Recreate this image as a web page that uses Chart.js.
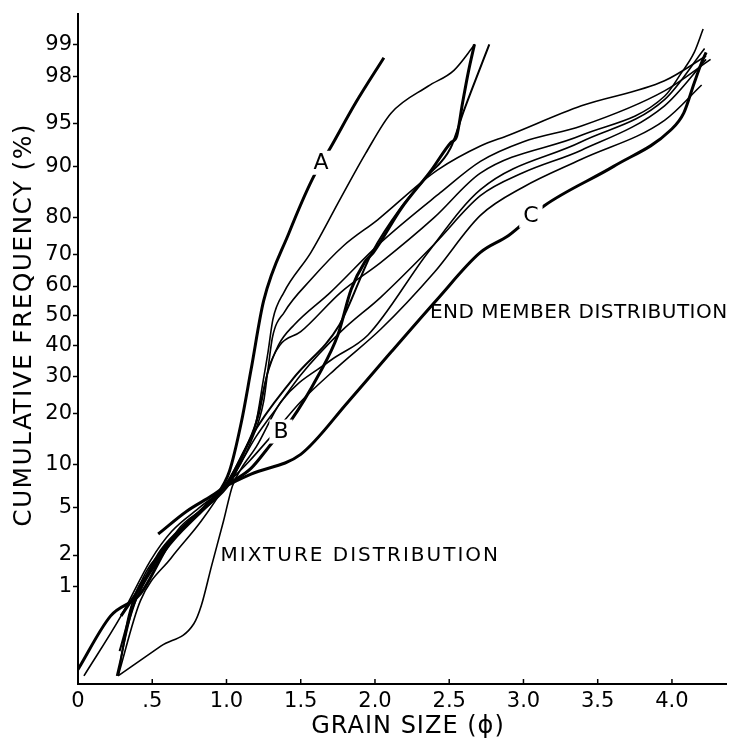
<!DOCTYPE html>
<html>
<head>
<meta charset="utf-8">
<script src="https://cdn.jsdelivr.net/npm/chart.js@4.4.1/dist/chart.umd.min.js"></script>
<style>
html,body{margin:0;padding:0;background:#fff;}
#wrap{width:733px;height:747px;position:relative;}
</style>
</head>
<body>
<div id="wrap"><canvas id="c"></canvas></div>
<script>
// ---- tick definitions ----
const yTickPercents = [1,2,5,10,20,30,40,50,60,70,80,90,95,98,99];
const yTickLabels = ["1","2","5","10","20","30","40","50","60","70","80","90","95","98","99"];
const xTickValues = [0,0.5,1.0,1.5,2.0,2.5,3.0,3.5,4.0];
const xTickLabels = ["0",".5","1.0","1.5","2.0","2.5","3.0","3.5","4.0"];

// ---- curves: grain size (phi) and cumulative frequency (%) ----
const phiA = [0.29,0.42,0.56,0.76,0.93,1.02,1.10,1.165,1.25,1.42,1.58,1.70,1.87,2.06];
const pctA = [0.5,1.0,2.2,4.0,6.1,9.1,18,32,55,76,88,92.5,96.6,98.65];

const phiB = [0.0,0.22,0.42,0.63,0.83,1.0,1.165,1.30,1.43,1.62,1.75,1.84,1.93,1.99,2.175,2.38,2.51,2.55,2.59,2.63,2.67];
const pctB = [0.12,0.5,0.85,2.7,4.65,7.2,9.5,13.5,18.2,30.5,43.4,58.9,67.6,70.6,82,89.4,93.1,93.8,96.6,98.2,99.0];

const phiC = [0.54,0.73,0.90,1.0,1.165,1.50,1.82,2.11,2.42,2.71,2.90,3.14,3.61,3.99,4.08,4.15,4.20,4.23];
const pctC = [3.05,4.65,6.1,7.2,8.7,11.7,23.0,37.8,55.6,70.6,75.4,82.7,90.0,94.4,95.9,97.7,98.5,98.8];

const phiD2 = [0.27,0.42,0.63,0.83,1.0,1.10,1.20,1.246,1.28,1.313,1.387,1.569,1.771,1.939,2.108,2.357,2.532,2.673];
const pctD2 = [0.1,0.72,1.9,3.9,7.5,11.4,18.2,28.5,37.8,48.8,57.9,70.6,84.4,91.85,95.87,97.54,98.23,99.0];

const phiD3 = [0.28,0.36,0.59,0.83,1.03,1.16,1.45,1.76,1.98,2.175,2.34,2.51,2.60,2.77];
const pctD3 = [0.2,0.57,2.2,4.6,7.7,14.5,29.5,46.8,70.6,82.3,88.1,92.5,96.1,99.0];

const phiR1 = [0.04,0.29,0.49,0.63,0.83,1.02,1.165,1.25,1.28,1.31,1.39,1.57,1.79,2.02,2.31,2.42,2.71,2.90,3.39,3.95,4.23];
const pctR1 = [0.1,0.5,1.8,3.2,5.1,7.7,14.0,23,32.4,42.7,51.2,62.2,72.6,79.5,87.3,89.4,92.7,93.9,96.4,97.8,98.7];

const phiR2 = [0.27,0.37,0.52,0.69,0.86,1.0,1.10,1.20,1.27,1.35,1.455,1.70,2.04,2.44,2.71,3.0,3.39,3.95,4.26];
const pctR2 = [0.1,0.72,1.6,3.5,5.1,7.5,11.4,18.2,30,40,46.8,57.9,73.5,85.4,90.7,93.2,94.8,97.3,98.6];

const phiR3 = [0.27,0.34,0.45,0.66,0.88,1.0,1.12,1.22,1.28,1.36,1.50,1.77,2.04,2.40,2.71,3.39,3.95,4.06,4.15,4.21];
const pctR3 = [0.1,0.5,1.2,3.0,5.5,7.5,12,20,32,40,44.5,57.9,67.6,80,88.9,93.9,97.0,98.1,98.8,99.3];

const phiR4 = [0.30,0.40,0.60,0.83,1.0,1.10,1.20,1.35,1.50,1.77,2.04,2.40,2.71,3.0,3.39,3.95,4.23];
const pctR4 = [0.25,0.8,2.4,4.8,7.4,10.5,15,22,30.5,44.5,56.3,73,84.8,89,92.2,96.4,98.6];

const phiR5 = [0.26,0.40,0.62,0.85,1.0,1.15,1.30,1.50,1.75,2.04,2.40,2.71,3.0,3.39,3.95,4.20];
const pctR5 = [0.1,0.9,2.6,5.0,7.4,10.5,15,23,33,45.4,64.5,80.5,86.5,91.0,95.3,97.6];

const phiM = [0.27,0.56,0.78,0.83,0.90,0.98,1.04,1.10,1.20,1.367,1.70,1.953,2.357,2.71,3.39,3.95,4.22];
const pctM = [0.1,0.23,0.41,0.64,1.6,3.9,7.2,9.5,13,23,35,43.4,70.6,86,93.2,96.8,98.9];

// labels on curves and annotations
const curveLabels = ["A","B","C"];
const curveLabelPhi = [1.636,1.367,3.05];
const curveLabelPct = [90.5,16,80.4];
const noteTexts = ["MIXTURE DISTRIBUTION","END MEMBER DISTRIBUTION"];
const notePhi = [0.96,2.37];
const notePct = [1.97,50.9];
const noteSpacing = ['2px','0.5px'];

// inverse normal CDF (probability-paper transform)
function probit(p){
  const a=[-3.969683028665376e+01,2.209460984245205e+02,-2.759285104469687e+02,1.383577518672690e+02,-3.066479806614716e+01,2.506628277459239e+00];
  const b=[-5.447609879822406e+01,1.615858368580409e+02,-1.556989798598866e+02,6.680131188771972e+01,-1.328068155288572e+01];
  const c=[-7.784894002430293e-03,-3.223964580411365e-01,-2.400758277161838e+00,-2.549732539343734e+00,4.374664141464968e+00,2.938163982698783e+00];
  const d=[7.784695709041462e-03,3.224671290700398e-01,2.445134137142996e+00,3.754408661907416e+00];
  const pl=0.02425, ph=1-pl; let q,r;
  if(p<pl){q=Math.sqrt(-2*Math.log(p));return (((((c[0]*q+c[1])*q+c[2])*q+c[3])*q+c[4])*q+c[5])/((((d[0]*q+d[1])*q+d[2])*q+d[3])*q+1);}
  if(p<=ph){q=p-0.5;r=q*q;return (((((a[0]*r+a[1])*r+a[2])*r+a[3])*r+a[4])*r+a[5])*q/(((((b[0]*r+b[1])*r+b[2])*r+b[3])*r+b[4])*r+1);}
  q=Math.sqrt(-2*Math.log(1-p));return -(((((c[0]*q+c[1])*q+c[2])*q+c[3])*q+c[4])*q+c[5])/((((d[0]*q+d[1])*q+d[2])*q+d[3])*q+1);
}

function series(phi,pct,w){
  return {
    data: phi.map((v,i)=>({x:v,y:probit(pct[i]/100)})),
    borderColor:'#000', borderWidth:w, pointRadius:0, showLine:true, fill:false,
    cubicInterpolationMode:'monotone', borderCapStyle:'butt', borderJoinStyle:'round'
  };
}

const FONT = '"DejaVu Sans", "Liberation Sans", sans-serif';

const overlay = {
  id:'overlay',
  afterDatasetsDraw(chart){
    const {ctx, chartArea} = chart;
    const x = chart.scales.x, y = chart.scales.y;
    ctx.save();
    // inward x tick marks
    ctx.strokeStyle='#000'; ctx.lineWidth=1.5;
    xTickValues.forEach(v=>{
      const px=x.getPixelForValue(v);
      ctx.beginPath(); ctx.moveTo(px,chartArea.bottom); ctx.lineTo(px,chartArea.bottom-5); ctx.stroke();
    });
    // curve labels A, B, C with gaps
    ctx.font='22px '+FONT; ctx.textAlign='center'; ctx.textBaseline='middle';
    curveLabels.forEach((t,i)=>{
      const px=x.getPixelForValue(curveLabelPhi[i]);
      const py=y.getPixelForValue(probit(curveLabelPct[i]/100));
      const w=ctx.measureText(t).width;
      ctx.fillStyle='#fff'; ctx.fillRect(px-w/2-4,py-12,w+8,24);
      ctx.fillStyle='#000'; ctx.fillText(t,px,py+1);
    });
    // annotations
    ctx.font='20px '+FONT; ctx.textAlign='left'; ctx.textBaseline='middle';
    noteTexts.forEach((t,i)=>{
      try{ctx.letterSpacing=noteSpacing[i];}catch(e){}
      const px=x.getPixelForValue(notePhi[i]);
      const py=y.getPixelForValue(probit(notePct[i]/100));
      ctx.fillStyle='#000'; ctx.fillText(t,px,py);
    });
    // axis titles
    ctx.font='24px '+FONT; ctx.textAlign='center'; ctx.textBaseline='middle';
    try{ctx.letterSpacing='1px';}catch(e){}
    ctx.fillText('GRAIN SIZE (ϕ)', 408, 727);
    ctx.save();
    ctx.translate(24,325); ctx.rotate(-Math.PI/2);
    ctx.font='25px '+FONT; try{ctx.letterSpacing='1.3px';}catch(e){}
    ctx.fillText('CUMULATIVE FREQUENCY (%)',0,0);
    ctx.restore();
    ctx.restore();
  }
};

new Chart(document.getElementById('c'),{
  type:'scatter',
  data:{datasets:[
    series(phiA,pctA,3),
    series(phiB,pctB,3),
    series(phiC,pctC,3),
    series(phiD2,pctD2,1.6),
    series(phiD3,pctD3,2),
    series(phiR1,pctR1,1.6),
    series(phiR2,pctR2,1.6),
    series(phiR3,pctR3,1.6),
    series(phiR4,pctR4,1.6),
    series(phiR5,pctR5,1.6),
    series(phiM,pctM,1.6)
  ]},
  options:{
    responsive:true, maintainAspectRatio:false, animation:false,
    layout:{padding:{top:10,right:7,left:0,bottom:0}},
    plugins:{legend:{display:false},tooltip:{enabled:false}},
    scales:{
      x:{
        type:'linear', min:0, max:4.364,
        afterBuildTicks(s){ s.ticks = xTickValues.map(v=>({value:v})); },
        afterFit(s){ s.height = 63; },
        grid:{display:true, drawOnChartArea:false, drawTicks:false},
        border:{display:true,color:'#000',width:2},
        ticks:{autoSkip:false, maxRotation:0, padding:5, color:'#000',
          font:{family:FONT,size:21},
          callback:(v,i)=>xTickLabels[i]}
      },
      y:{
        type:'linear', min:-3.16, max:2.59,
        afterBuildTicks(s){ s.ticks = yTickPercents.map(p=>({value:probit(p/100)})); },
        afterFit(s){ s.width = 78; },
        grid:{display:true, drawOnChartArea:false, drawTicks:true, tickLength:5, tickWidth:1.5, tickColor:'#000'},
        border:{display:true,color:'#000',width:2},
        ticks:{autoSkip:false, padding:1, color:'#000',
          font:{family:FONT,size:21},
          callback:(v,i)=>yTickLabels[i]}
      }
    }
  },
  plugins:[overlay]
});
</script>
</body>
</html>
